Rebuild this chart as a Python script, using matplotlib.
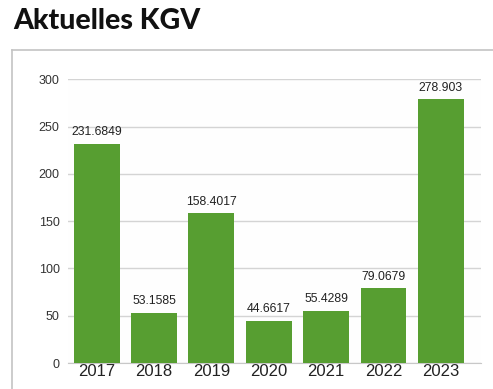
import matplotlib
matplotlib.use("Agg")
import matplotlib.pyplot as plt
from matplotlib.lines import Line2D

years = ["2017", "2018", "2019", "2020", "2021", "2022", "2023"]
kgv = [231.6849, 53.1585, 158.4017, 44.6617, 55.4289, 79.0679, 278.903]
kgv_labels = ["231.6849", "53.1585", "158.4017", "44.6617", "55.4289", "79.0679", "278.903"]
y_ticks = [0, 50, 100, 150, 200, 250, 300]

W, H = 493, 389
fig = plt.figure(figsize=(W / 100, H / 100), dpi=100)
fig.patch.set_facecolor("white")

# Title
fig.text(13 / W, 1 - 21 / H, "Aktuelles KGV", fontsize=20.5, fontweight="black",
         family="Lato", color="#111111", va="center", ha="left")

# Frame around the chart panel
frame_col = "#c4c4c4"
fig.add_artist(Line2D([12 / W, 1.0], [1 - 49.5 / H, 1 - 49.5 / H],
                      transform=fig.transFigure, color=frame_col, lw=1.2))
fig.add_artist(Line2D([12 / W, 12 / W], [0, 1 - 49.5 / H],
                      transform=fig.transFigure, color=frame_col, lw=1.2))

ax = fig.add_axes([68 / W, 1 - 363 / H, (481 - 68) / W, (363 - 79.3) / H])
ax.set_facecolor("#fefefe")

x = range(len(years))
bars = ax.bar(x, kgv, width=0.8, color="#579e31", zorder=3)

for xi, v, lab in zip(x, kgv, kgv_labels):
    ax.annotate(lab, (xi, v), xytext=(0, 4), textcoords="offset points",
                ha="center", va="bottom", fontsize=8.8, family="Liberation Sans",
                color="#222222")

ax.set_xlim(-0.5, 6.7)
ax.set_ylim(0, 300)
ax.set_yticks(y_ticks)
ax.set_yticklabels([str(t) for t in y_ticks], fontsize=9,
                   family="Liberation Sans", color="#333333")
ax.set_xticks(list(x))
ax.set_xticklabels(years, fontsize=12, family="Liberation Sans", color="#222222")

ax.yaxis.grid(True, color="#d4d4d4", lw=1, zorder=0)
ax.set_axisbelow(True)
for s in ["top", "right", "left"]:
    ax.spines[s].set_visible(False)
ax.spines["bottom"].set_color("#c8c8c8")
ax.tick_params(axis="both", length=0)
ax.tick_params(axis="y", pad=6)
ax.tick_params(axis="x", pad=1)

fig.savefig("out.png", dpi=100)
